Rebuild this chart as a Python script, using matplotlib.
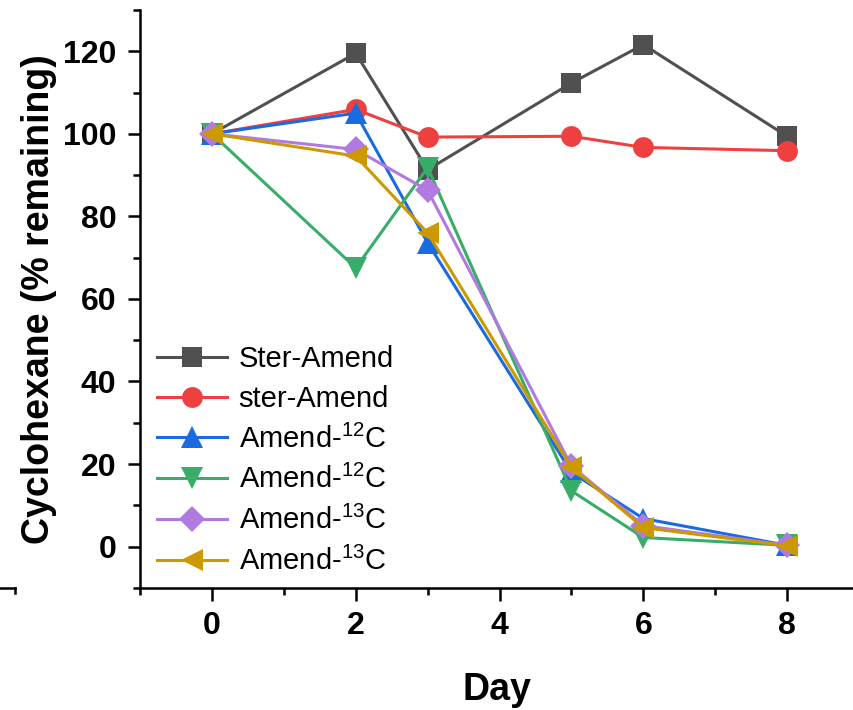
import matplotlib
matplotlib.use('Agg')
import matplotlib.pyplot as plt
from matplotlib.lines import Line2D
from matplotlib.ticker import MultipleLocator

plt.rcParams['font.family'] = ['Liberation Sans', 'DejaVu Sans']
plt.rcParams['mathtext.fontset'] = 'custom'
plt.rcParams['mathtext.rm'] = 'Liberation Sans'

# Data
days = [0, 2, 3, 5, 6, 8]
ster_amend_1 = [100, 119.5, 91.3, 112.3, 121.6, 99.4]
ster_amend_2 = [100, 105.9, 99.2, 99.4, 96.7, 95.9]
amend12_a = [100, 105.0, 73.6, 18.0, 6.8, 0.3]
amend12_b = [100, 67.5, 91.8, 13.5, 2.2, 0.3]
amend13_a = [100, 96.2, 86.3, 19.5, 5.1, 0.3]
amend13_b = [100, 94.6, 76.0, 19.2, 4.6, 0.2]

labels = ['Ster-Amend', 'ster-Amend', r'Amend-$^{12}$C', r'Amend-$^{12}$C',
          r'Amend-$^{13}$C', r'Amend-$^{13}$C']
series = [ster_amend_1, ster_amend_2, amend12_a, amend12_b, amend13_a, amend13_b]
colors = ['#505050', '#ef4040', '#1a6be0', '#38ad6a', '#b07ae0', '#cc9900']
markers = ['s', 'o', '^', 'v', 'D', '<']
msizes = [14, 15, 16, 16, 13, 16]

fig = plt.figure(figsize=(8.54, 7.1), dpi=100)
ax = fig.add_axes([0.164, 0.172, 0.836, 0.814])

for y, lab, c, m, ms in zip(series, labels, colors, markers, msizes):
    ax.plot(days, y, color=c, marker=m, markersize=ms, linewidth=2.2,
            label=lab, markeredgewidth=0)

ax.set_xlim(-1, 8.93)
ax.set_ylim(-10, 130)
ax.xaxis.set_minor_locator(MultipleLocator(1))
ax.yaxis.set_minor_locator(MultipleLocator(10))
ax.set_yticks([0, 20, 40, 60, 80, 100, 120])
ax.set_xticks([0, 2, 4, 6, 8])

for s in ['top', 'right']:
    ax.spines[s].set_visible(False)
for s in ['left', 'bottom']:
    ax.spines[s].set_linewidth(1.8)

ax.tick_params(which='major', direction='out', length=9, width=1.8,
               labelsize=23, pad=8)
ax.tick_params(which='minor', direction='out', length=5, width=1.8)
for lbl in ax.get_xticklabels() + ax.get_yticklabels():
    lbl.set_fontweight('bold')

ax.set_xlabel('Day', fontsize=27, fontweight='bold', labelpad=22)
ax.set_ylabel('Cyclohexane (% remaining)', fontsize=27, fontweight='bold',
              labelpad=4)

ax.legend(loc='lower left', bbox_to_anchor=(0.008, 0.0), frameon=False,
          fontsize=21, handlelength=2.4, handletextpad=0.38, labelspacing=0.4,
          borderaxespad=0.1, borderpad=0.3)

# stray axis piece at the far left
fig.add_artist(Line2D([0, 0.018], [0.172, 0.172], color='black', linewidth=1.8))
fig.add_artist(Line2D([0.018, 0.018], [0.172, 0.165], color='black', linewidth=1.8))

fig.savefig('out.png', dpi=100)
